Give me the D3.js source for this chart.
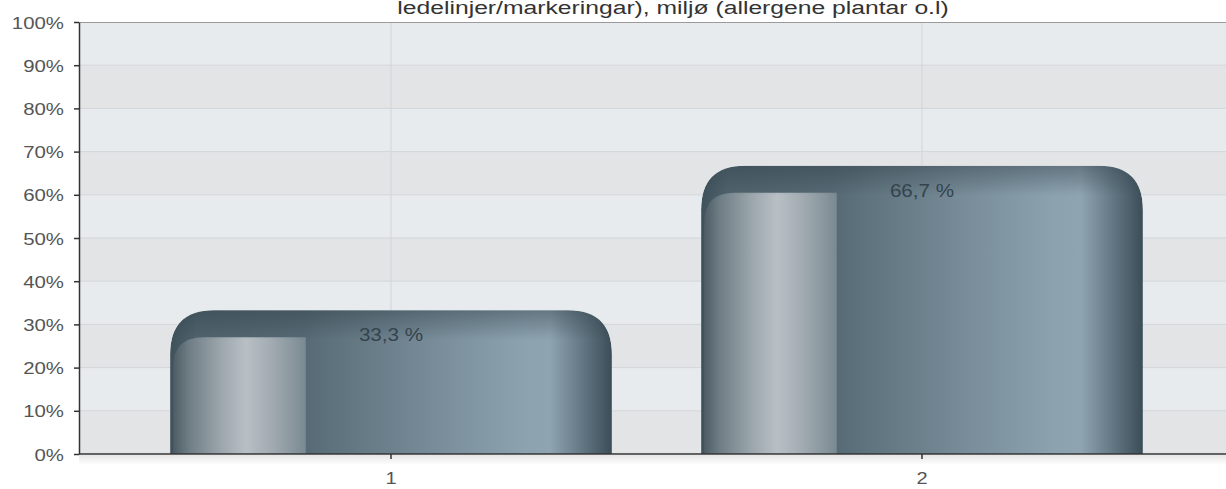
<!DOCTYPE html>
<html>
<head>
<meta charset="utf-8">
<script src="https://cdn.jsdelivr.net/npm/d3@7"></script>
<style>
  body { margin: 0; background: #fff; }
  svg { display: block; font-family: Arial, "Liberation Sans", sans-serif; }
</style>
</head>
<body>
<div id="chart"></div>
<script>
// data
const categories = ["1", "2"];
const values = [33.3, 66.7];
const valueLabels = ["33,3 %", "66,7 %"];
const yTicks = [0, 10, 20, 30, 40, 50, 60, 70, 80, 90, 100];
const titleText = "ledelinjer/markeringar), miljø (allergene plantar o.l)";

const width = 1226, height = 489;
const margin = { top: 22, left: 79, bottom: 35 };
const plotBottom = height - margin.bottom;
const stretch = 1.18; // text in the picture looks a bit wide

const svg = d3.select("#chart").append("svg")
    .attr("width", width)
    .attr("height", height);

const defs = svg.append("defs");

function addStops(grad, stops) {
    stops.forEach(s => grad.append("stop").attr("offset", s[0]).attr("stop-color", s[1]));
}

// main bar gradient (horizontal, cylinder-ish)
const mainGrad = defs.append("linearGradient").attr("id", "barMain")
    .attr("x1", 0).attr("x2", 1).attr("y1", 0).attr("y2", 0);
addStops(mainGrad, [[0, "#3f515b"], [0.06, "#50636d"], [0.3, "#566a75"], [0.34, "#5b6f7a"],
    [0.6, "#788d99"], [0.8, "#8ca2af"], [0.86, "#8fa4b1"], [0.93, "#647985"], [1, "#3b4d57"]]);

// highlight on the left part
const hiGrad = defs.append("linearGradient").attr("id", "barHi")
    .attr("x1", 0).attr("x2", 1).attr("y1", 0).attr("y2", 1e-6);
addStops(hiGrad, [[0, "#4e5d65"], [0.12, "#6f7d85"], [0.35, "#9aa5ab"], [0.55, "#b9c0c5"],
    [0.75, "#a0aab0"], [1, "#7a8a92"]]);

// darker top edge
const topGrad = defs.append("linearGradient").attr("id", "barTop")
    .attr("x1", 0).attr("x2", 0).attr("y1", 0).attr("y2", 1);
topGrad.append("stop").attr("offset", 0).attr("stop-color", "#2f3f48").attr("stop-opacity", 0.45);
topGrad.append("stop").attr("offset", 1).attr("stop-color", "#2f3f48").attr("stop-opacity", 0);

// shadow under x axis
const shGrad = defs.append("linearGradient").attr("id", "axisShadow")
    .attr("x1", 0).attr("x2", 0).attr("y1", 0).attr("y2", 1);
shGrad.append("stop").attr("offset", 0).attr("stop-color", "#000").attr("stop-opacity", 0.10);
shGrad.append("stop").attr("offset", 1).attr("stop-color", "#000").attr("stop-opacity", 0);

const x = d3.scaleBand()
    .domain(categories)
    .range([margin.left, 1234])
    .paddingInner(0)
    .paddingOuter(0.0876);

const y = d3.scaleLinear()
    .domain([0, 100])
    .range([plotBottom, margin.top]);

const barW = x.bandwidth() * 0.832;

// alternating background bands
svg.append("g").selectAll("rect")
    .data(yTicks.slice(0, -1))
    .join("rect")
    .attr("x", margin.left)
    .attr("y", d => y(d + 10))
    .attr("width", width - margin.left)
    .attr("height", d => y(d) - y(d + 10))
    .attr("fill", (d, i) => i % 2 === 0 ? "#e3e4e6" : "#e8ebee");

// horizontal grid
svg.append("g").selectAll("line")
    .data(yTicks.slice(1, -1))
    .join("line")
    .attr("x1", margin.left).attr("x2", width)
    .attr("y1", d => y(d)).attr("y2", d => y(d))
    .attr("stroke", "#d2d5d8");

// vertical grid at category centres
svg.append("g").selectAll("line")
    .data(categories)
    .join("line")
    .attr("x1", d => x(d) + x.bandwidth() / 2).attr("x2", d => x(d) + x.bandwidth() / 2)
    .attr("y1", margin.top).attr("y2", plotBottom)
    .attr("stroke", "#d2d5d8");

// top border
svg.append("line")
    .attr("x1", margin.left).attr("x2", width)
    .attr("y1", margin.top + 0.5).attr("y2", margin.top + 0.5)
    .attr("stroke", "#9a9a9a");

function roundTop(x0, y0, w, h, r) {
    return `M${x0},${y0 + h}V${y0 + r}Q${x0},${y0} ${x0 + r},${y0}` +
        `H${x0 + w - r}Q${x0 + w},${y0} ${x0 + w},${y0 + r}V${y0 + h}Z`;
}
function roundTopLeft(x0, y0, w, h, r) {
    return `M${x0},${y0 + h}V${y0 + r}Q${x0},${y0} ${x0 + r},${y0}` +
        `H${x0 + w}V${y0 + h}Z`;
}

const bars = svg.append("g").selectAll("g")
    .data(values.map((v, i) => ({ cat: categories[i], v: v, label: valueLabels[i] })))
    .join("g");

bars.each(function (d, i) {
    const g = d3.select(this);
    const cx = x(d.cat) + x.bandwidth() / 2;
    const x0 = cx - barW / 2;
    const y0 = y(d.v);
    const h = plotBottom - y0;
    const shape = roundTop(x0, y0, barW, h, 44);
    defs.append("clipPath").attr("id", "barClip" + i)
        .append("path").attr("d", shape);
    const inner = g.append("g").attr("clip-path", `url(#barClip${i})`);
    inner.append("path")
        .attr("d", shape)
        .attr("fill", "url(#barMain)");
    inner.append("path")
        .attr("d", roundTopLeft(x0 + barW * 0.007, y0 + 27, barW * 0.3, h - 27, 30))
        .attr("fill", "url(#barHi)");
    inner.append("rect")
        .attr("x", x0).attr("y", y0)
        .attr("width", barW).attr("height", 30)
        .attr("fill", "url(#barTop)");
    g.append("text")
        .attr("transform", `translate(${cx},${y0 + 31}) scale(${stretch},1)`)
        .attr("text-anchor", "middle")
        .attr("font-size", 17.5)
        .attr("fill", "#34434d")
        .text(d.label);
});

// shadow under the x axis
svg.append("rect")
    .attr("x", margin.left).attr("y", plotBottom + 1)
    .attr("width", width - margin.left).attr("height", 10)
    .attr("fill", "url(#axisShadow)");

// axes
const yAxis = svg.append("g")
    .attr("transform", `translate(${margin.left},0)`)
    .call(d3.axisLeft(y).tickValues(yTicks).tickSize(5).tickSizeOuter(0).tickFormat(d => d + "%"));
yAxis.select(".domain").attr("stroke", "#333").attr("stroke-width", 1.5);
yAxis.selectAll(".tick line").attr("stroke", "#333").attr("stroke-width", 1.5);
yAxis.selectAll(".tick text")
    .attr("x", null).attr("dy", null)
    .attr("transform", `translate(-15,6) scale(1.2,1)`)
    .attr("font-size", 17)
    .attr("font-family", "Arial, 'Liberation Sans', sans-serif")
    .attr("fill", "#555");

const xAxis = svg.append("g")
    .attr("transform", `translate(0,${plotBottom})`)
    .call(d3.axisBottom(x).tickSize(5).tickSizeOuter(0));
xAxis.select(".domain").attr("d", `M${margin.left},0H${width}`)
    .attr("stroke", "#333").attr("stroke-width", 1.5);
xAxis.selectAll(".tick line").attr("stroke", "#333").attr("stroke-width", 1.5);
xAxis.selectAll(".tick text")
    .attr("y", null).attr("dy", null)
    .attr("transform", `translate(0,30) scale(${stretch},1)`)
    .attr("font-size", 17)
    .attr("font-family", "Arial, 'Liberation Sans', sans-serif")
    .attr("fill", "#555");

// title (only its last line shows, top is cut off in the original)
svg.append("text")
    .attr("transform", `translate(673,14) scale(1.3,1)`)
    .attr("text-anchor", "middle")
    .attr("font-size", 19)
    .attr("fill", "#333")
    .text(titleText);
</script>
</body>
</html>
